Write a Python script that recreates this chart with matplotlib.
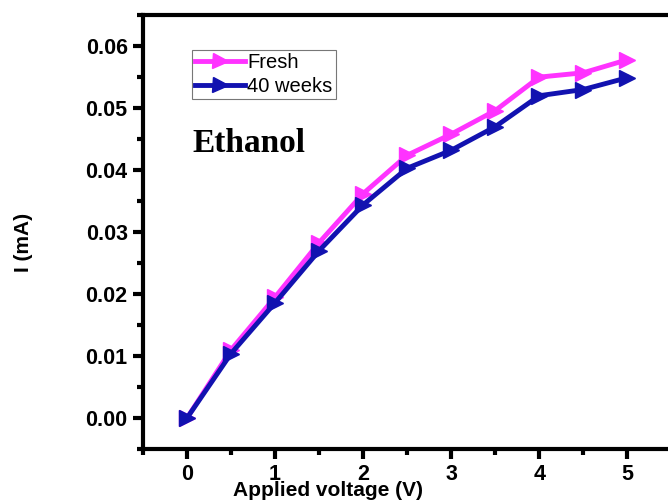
import matplotlib
matplotlib.use("Agg")
import matplotlib.pyplot as plt
from matplotlib.ticker import MultipleLocator

voltage = [0, 0.5, 1, 1.5, 2, 2.5, 3, 3.5, 4, 4.5, 5]
fresh = [0.0, 0.0110, 0.0195, 0.0283, 0.0362, 0.0424, 0.0458, 0.0496, 0.0550, 0.0557, 0.0578]
weeks40 = [0.0, 0.0104, 0.0186, 0.0270, 0.0344, 0.0403, 0.0432, 0.0470, 0.0520, 0.0530, 0.0549]

plt.rcParams["font.family"] = "Liberation Sans"

fig = plt.figure(figsize=(6.68, 5.04), dpi=100)
ax = fig.add_axes([0.214, 0.109, 0.791, 0.861])

ax.plot(voltage, fresh, "-", color="#ff33ff", lw=3.5, marker=">", ms=12,
        label="Fresh")
ax.plot(voltage, weeks40, "-", color="#1212b0", lw=3.5, marker=">", ms=12,
        label="40 weeks")

ax.set_xlim(-0.5, 5.5)
ax.set_ylim(-0.005, 0.065)
ax.xaxis.set_major_locator(MultipleLocator(1))
ax.xaxis.set_minor_locator(MultipleLocator(0.5))
ax.yaxis.set_major_locator(MultipleLocator(0.01))
ax.yaxis.set_minor_locator(MultipleLocator(0.005))
ax.yaxis.set_major_formatter(plt.FormatStrFormatter("%.2f"))

for s in ax.spines.values():
    s.set_linewidth(3)
ax.tick_params(which="major", length=7, width=3, labelsize=15.5, pad=4)
ax.tick_params(which="minor", length=4, width=3)
for lab in ax.get_xticklabels() + ax.get_yticklabels():
    lab.set_fontweight("bold")

# the label sits partly under the tick numbers, as in the original figure
ax.set_xlabel("Applied voltage (V)", fontsize=15, fontweight="bold")
ax.xaxis.set_label_coords(0.35, -0.074)
ax.set_ylabel("I (mA)", fontsize=15, fontweight="bold")
ax.yaxis.set_label_coords(-0.208, 0.477)

ax.text(0.094, 0.685, "Ethanol", transform=ax.transAxes, fontsize=24,
        fontweight="bold", family="Liberation Serif")

leg = ax.legend(loc="upper left", bbox_to_anchor=(0.093, 0.919), fontsize=14.5,
                frameon=True, fancybox=False, handlelength=2.5, handletextpad=0.1,
                borderpad=0.15, labelspacing=0.22, borderaxespad=0, markerscale=0.9)
leg.get_frame().set_edgecolor("#555555")
leg.get_frame().set_linewidth(0.8)

plt.savefig("out.png", dpi=100)
